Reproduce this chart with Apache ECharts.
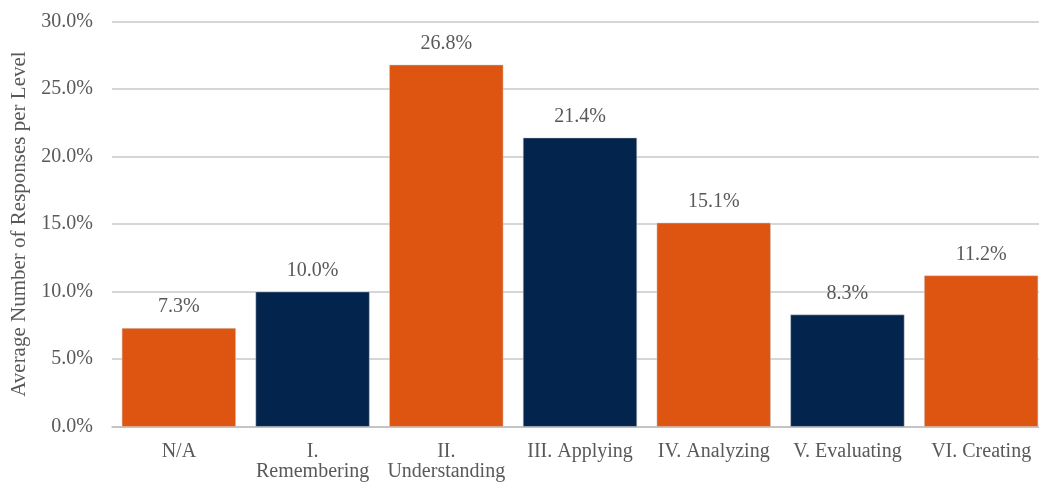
<!DOCTYPE html>
<html lang="en">
<head>
    <meta charset="UTF-8">
    <title>Responses per Level</title>
    <script type="text/javascript" src="https://cdn.jsdelivr.net/npm/echarts@6/dist/echarts.min.js"></script>
    <style>
        html, body { margin: 0; padding: 0; background: #fff; overflow: hidden; }
    </style>
</head>
<body>
    <!-- a bit wider than the window: the original plot is cut off at the right edge -->
    <div id="charts" style="width:1048px;height:487px;"></div>
</body>
<script type="text/javascript">
    var levels = ['N/A', 'I.\nRemembering', 'II.\nUnderstanding', 'III. Applying', 'IV. Analyzing', 'V. Evaluating', 'VI. Creating'];
    var shares = [7.3, 10.0, 26.8, 21.4, 15.1, 8.3, 11.2];
    var barColors = ['#DD5511', '#03244D', '#DD5511', '#03244D', '#DD5511', '#03244D', '#DD5511'];

    var font = '"Liberation Serif", "Times New Roman", serif';
    var myChart = echarts.init(document.getElementById('charts'));

    var option = {
        animation: false,
        grid: { left: 112, right: 0, top: 21.5, bottom: 60.3 },
        xAxis: {
            type: 'category',
            data: levels,
            axisTick: { show: false },
            axisLine: { lineStyle: { color: '#bfbfbf', width: 1.5 } },
            axisLabel: {
                color: '#595959', fontFamily: font, fontSize: 20,
                margin: 15, lineHeight: 20, interval: 0
            }
        },
        yAxis: {
            type: 'value',
            min: 0, max: 30, interval: 5,
            name: 'Average Number of Responses per Level',
            nameLocation: 'middle',
            nameGap: 79,
            nameTextStyle: { color: '#595959', fontFamily: font, fontSize: 21 },
            axisLine: { show: false },
            axisTick: { show: false },
            splitLine: { lineStyle: { color: '#c8c8c8', width: 1.5 } },
            axisLabel: {
                color: '#595959', fontFamily: font, fontSize: 20, margin: 19,
                formatter: function (v) { return v.toFixed(1) + '%'; }
            }
        },
        series: [{
            type: 'bar',
            barCategoryGap: '14.7%',
            data: shares.map(function (v, i) {
                return { value: v, itemStyle: { color: barColors[i] } };
            }),
            itemStyle: { borderColor: '#d0d0d0', borderWidth: 0.5 },
            label: {
                show: true, position: 'top', distance: 11,
                color: '#595959', fontFamily: font, fontSize: 20,
                formatter: function (p) { return p.value.toFixed(1) + '%'; }
            }
        }]
    };

    myChart.setOption(option);
</script>
</html>
